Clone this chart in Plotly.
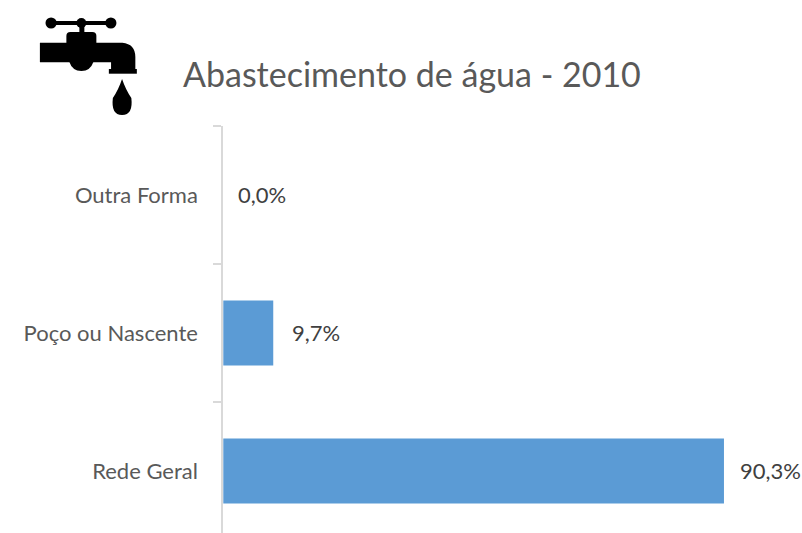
import plotly.graph_objects as go

categories = ["Rede Geral", "Poço ou Nascente", "Outra Forma"]
values = [90.3, 9.7, 0.0]
labels = ["90,3%", "9,7%", "0,0%"]
title = "Abastecimento de água - 2010"

W, H = 802, 533
L, T = 223, 126
ZERO_PX = 218.7      # where value 0 would sit: the reference's value axis starts just above 0
SCALE = 5.595        # px per percentage point
FONT = "Lato"
GREY = "#595959"


def fx(px):
    return (px - ZERO_PX) / (W - ZERO_PX)


def fy(py):
    return 1 - (py - T) / (H - T)


def path(points):
    parts = []
    for cmd, *xy in points:
        coords = " ".join(
            f"{fx(xy[i]):.5f},{fy(xy[i + 1]):.5f}" for i in range(0, len(xy), 2)
        )
        parts.append(f"{cmd} {coords}".strip())
    return " ".join(parts)


def solid(p):
    return dict(type="path", xref="paper", yref="paper", path=path(p),
                fillcolor="black", line=dict(width=0), layer="above")


def dot(cx, cy, r):
    return dict(type="circle", xref="paper", yref="paper",
                x0=fx(cx - r), x1=fx(cx + r), y0=fy(cy - r), y1=fy(cy + r),
                fillcolor="black", line=dict(width=0), layer="above")


# Decorative tap icon (not data)
icon = [
    dot(50.7, 23, 5.6), dot(81, 23, 5), dot(110.5, 23, 5.6),
    solid([("M", 50, 21), ("L", 111, 21), ("L", 111, 25), ("L", 50, 25), ("Z",)]),
    solid([("M", 79, 23), ("L", 84, 23), ("L", 84, 34), ("L", 79, 34), ("Z",)]),
    solid([("M", 66, 43), ("L", 66, 36), ("Q", 66, 32, 70, 32), ("L", 92, 32),
           ("Q", 96, 32, 96, 36), ("L", 96, 43), ("Z",)]),
    solid([("M", 39.5, 42.7), ("L", 122, 42.7), ("Q", 135, 44, 135, 57),
           ("L", 135, 70), ("L", 110.7, 70), ("L", 110.7, 62.3), ("L", 39.5, 62.3), ("Z",)]),
    solid([("M", 69, 62), ("Q", 72, 71, 81, 71), ("Q", 90, 71, 93, 62), ("Z",)]),
    solid([("M", 108.5, 69), ("L", 136.5, 69), ("L", 136.5, 73.7), ("L", 108.5, 73.7), ("Z",)]),
    solid([("M", 121.7, 79), ("Q", 118, 90, 112.5, 98), ("Q", 110.5, 115, 121.7, 115),
           ("Q", 133, 115, 131, 98), ("Q", 125.5, 90, 121.7, 79), ("Z",)]),
]

fig = go.Figure(
    go.Bar(x=values, y=categories, orientation="h",
           marker=dict(color="#5B9BD5", line=dict(width=0)), hoverinfo="skip")
)

# Labels sit on a hidden overlay axis with the same scale, whose range includes 0
annotations = [
    dict(x=v, y=c, xref="x2", yref="y", text=t, showarrow=False, xanchor="left",
         xshift=13, yshift=1, font=dict(family=FONT, size=22, color="#404040"))
    for v, c, t in zip(values, categories, labels)
]

plot_w = W - ZERO_PX

fig.update_layout(
    width=W, height=H, autosize=False,
    margin=dict(l=ZERO_PX, r=0, t=T, b=0, pad=0),
    paper_bgcolor="white", plot_bgcolor="white",
    bargap=0.53, showlegend=False,
    title=dict(text=title, x=183 / W, xref="container", xanchor="left",
               y=1 - 75 / H, yref="container", yanchor="middle",
               font=dict(family=FONT, size=34, color=GREY)),
    xaxis=dict(domain=[(L - ZERO_PX) / plot_w, 1],
               range=[(L - ZERO_PX) / SCALE, plot_w / SCALE], visible=False, fixedrange=True),
    xaxis2=dict(domain=[0, 1], range=[0, plot_w / SCALE], overlaying="x", visible=False,
                fixedrange=True, anchor="y"),
    yaxis=dict(type="category", categoryorder="array", categoryarray=categories,
               range=[-0.449, 2.5], showgrid=False, zeroline=False,
               showline=True, linecolor="#D9D9D9", linewidth=2,
               ticks="outside", tickson="boundaries", ticklen=8, tickcolor="#D9D9D9", tickwidth=2,
               tickfont=dict(family=FONT, size=22, color=GREY), ticklabelstandoff=19, fixedrange=True),
    annotations=annotations,
    shapes=icon,
)

fig.write_html(
    "out.html",
    config=dict(displayModeBar=False),
    post_script="document.body.style.margin='0';document.body.style.overflow='hidden';",
)
